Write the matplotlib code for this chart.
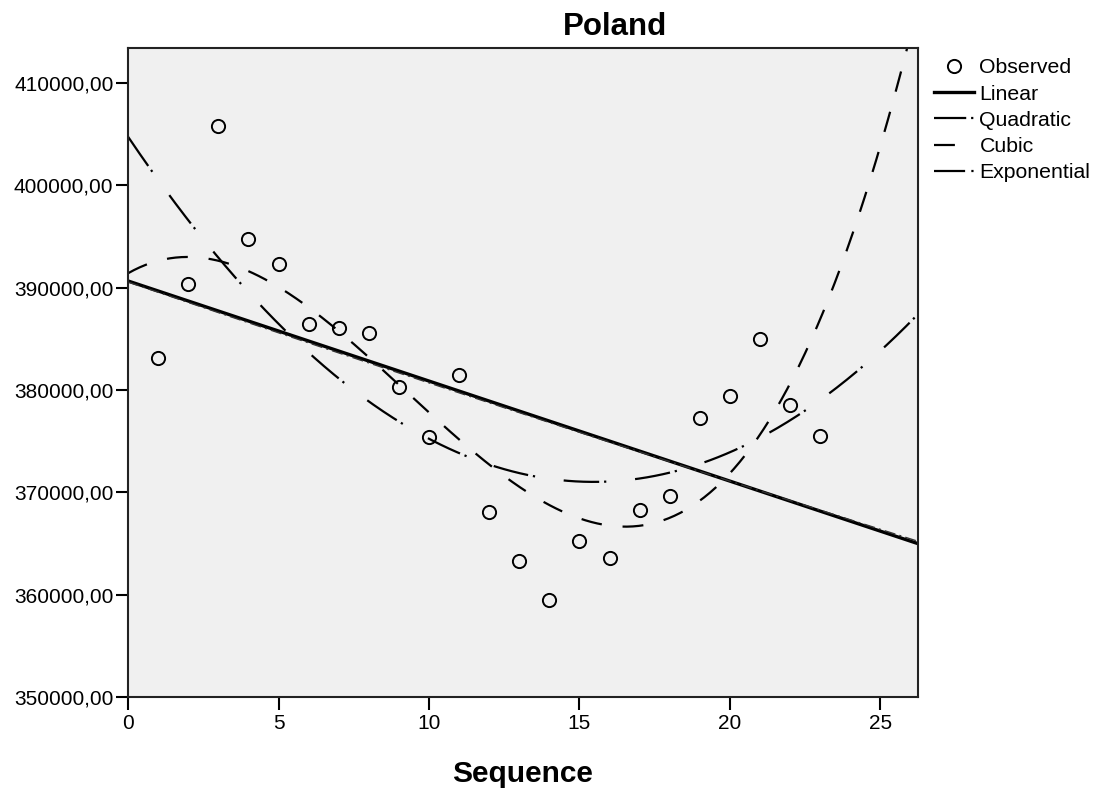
import matplotlib
matplotlib.use('Agg')
import matplotlib.pyplot as plt
from matplotlib.lines import Line2D
import numpy as np

plt.rcParams['font.family'] = ['Liberation Sans', 'DejaVu Sans']

sequence = [1, 2, 3, 4, 5, 6, 7, 8, 9, 10, 11, 12,
            13, 14, 15, 16, 17, 18, 19, 20, 21, 22, 23]
observed = [383100, 390350, 405800, 394750, 392300, 386450, 386050, 385550,
            380300, 375400, 381450, 368100, 363300, 359500, 365250, 363600,
            368300, 369650, 377250, 379400, 385000, 378550, 375500]

title = "Poland"
x_label = "Sequence"
x_ticks = [0, 5, 10, 15, 20, 25]
y_ticks = [350000, 360000, 370000, 380000, 390000, 400000, 410000]
legend_labels = ["Observed", "Linear", "Quadratic", "Cubic", "Exponential"]

x = np.array(sequence, dtype=float)
y = np.array(observed, dtype=float)

# curve estimation fits
xs = np.linspace(0, 26.25, 400)
lin = np.polyval(np.polyfit(x, y, 1), xs)
quad = np.polyval(np.polyfit(x, y, 2), xs)
cub = np.polyval(np.polyfit(x, y, 3), xs)
b, a = np.polyfit(x, np.log(y), 1)
expo = np.exp(a + b * xs)

quad_dash = (0, (16, 2.2, 1, 13))
cub_dash = (0, (9.4, 9.4))
exp_dash = (0, (8, 3, 1.5, 3))

fig = plt.figure(figsize=(10.99, 7.92), dpi=100)
ax = fig.add_axes([0.1165, 0.12, 0.7188, 0.8194])
ax.set_facecolor('#f0f0f0')

ax.plot(xs, lin, color='black', lw=2.4, solid_capstyle='butt')
ax.plot(xs, expo, color='#333333', lw=1.0, linestyle=exp_dash)
ax.plot(xs, quad, color='black', lw=1.6, linestyle=quad_dash)
ax.plot(xs, cub, color='black', lw=1.6, linestyle=cub_dash)
ax.plot(x, y, linestyle='none', marker='o', markersize=9.5,
        markerfacecolor='none', markeredgecolor='black', markeredgewidth=1.4)

ax.set_xlim(0, 26.25)
ax.set_ylim(350000, 413400)
ax.set_xticks(x_ticks)
ax.set_yticks(y_ticks)
ax.set_yticklabels([f"{v:.2f}".replace('.', ',') for v in y_ticks])
ax.tick_params(axis='both', direction='out', length=9, width=1.5,
               labelsize=15, colors='black')
ax.tick_params(axis='x', pad=3)
ax.tick_params(axis='y', pad=1.5)
for s in ax.spines.values():
    s.set_linewidth(1.5)
    s.set_color('#222222')

ax.set_xlabel(x_label, fontsize=21.5, fontweight='bold', labelpad=20)
fig.text(0.5596, 0.966, title, fontsize=22.5, fontweight='bold',
         ha='center', va='center')

handles = [
    Line2D([], [], linestyle='none', marker='o', markersize=9.5,
           markerfacecolor='none', markeredgecolor='black', markeredgewidth=1.4),
    Line2D([], [], color='black', lw=2.4),
    Line2D([], [], color='black', lw=1.6, linestyle=(0, (14.5, 2.2, 1, 10))),
    Line2D([], [], color='black', lw=1.6, linestyle=(0, (9.4, 20))),
    Line2D([], [], color='black', lw=1.6, linestyle=(0, (14, 2.8, 1, 10))),
]
ax.legend(handles, legend_labels, loc='upper left', bbox_to_anchor=(1.02, 0.984),
          frameon=False, fontsize=15.3, handlelength=1.9, handletextpad=0.25,
          labelspacing=0.34, borderaxespad=0, borderpad=0)

fig.savefig('out.png', dpi=100)
plt.close(fig)
